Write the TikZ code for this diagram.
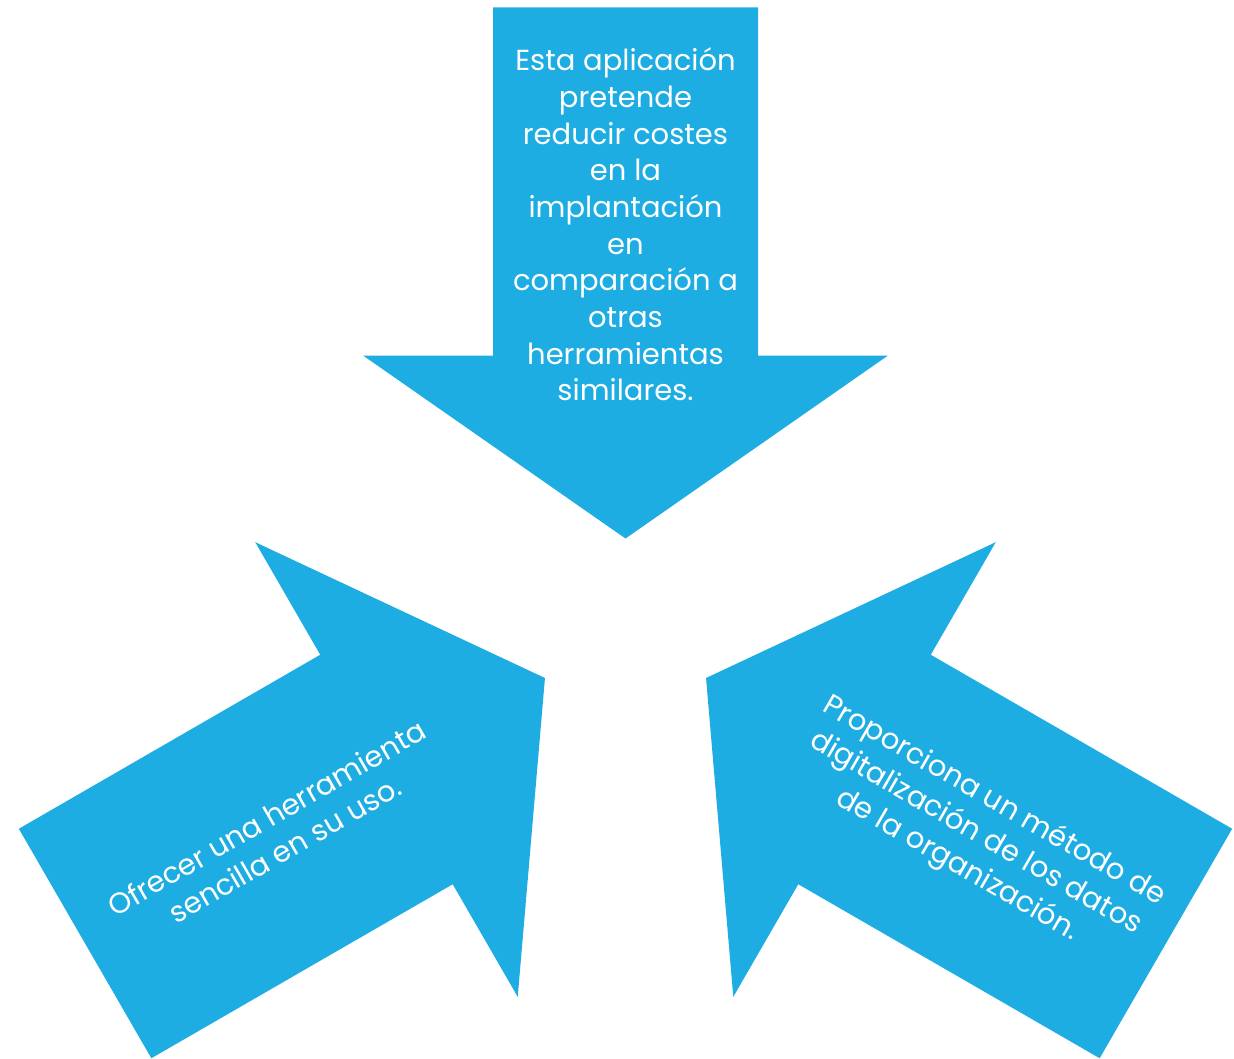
\documentclass[tikz,border=0pt]{standalone}
\usepackage{fontspec}
\setmainfont{Poppins}
\definecolor{arrowblue}{RGB}{30,173,226}
\begin{document}
\begin{tikzpicture}[x=1pt,y=1pt,
  arrowshape/.style={fill=arrowblue,draw=none},
  lbl/.style={text=white,align=center,inner sep=0pt,font=\fontsize{29}{36.7}\selectfont}]
\useasboundingbox (0,0) rectangle (1234,-1059);
\coordinate (C) at (625.5,-631.5);
\foreach \a/\n in {-90/top,30/left,150/right}{
  \begin{scope}[shift={(C)},rotate=\a]
    \fill[arrowshape] (-624,132.5) -- (-276,132.5) -- (-276,262.5) -- (-93,0)
      -- (-276,-262.5) -- (-276,-132.5) -- (-624,-132.5) -- cycle;
    \coordinate (\n c) at (-404,0);
  \end{scope}
}
\node[lbl] (ttop) at ([yshift=3pt]topc) {Esta aplicación\\pretende\\reducir costes\\en la\\implantación\\en\\comparación a\\otras\\herramientas\\similares.};
\node[lbl,rotate=30] (tleft) at (leftc) {Ofrecer una herramienta\\sencilla en su uso.};
\node[lbl,rotate=-30] (tright) at (rightc) {Proporciona un método de\\digitalización de los datos\\de la organización.};
\end{tikzpicture}
\end{document}
